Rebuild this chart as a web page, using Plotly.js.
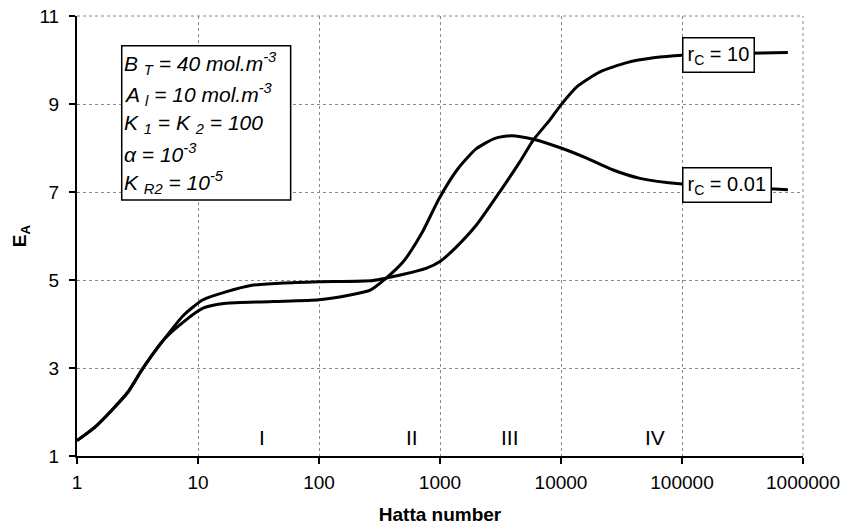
<!DOCTYPE html>
<html>
<head>
<meta charset="utf-8">
<script src="https://cdn.plot.ly/plotly-3.0.1.min.js"></script>
<style>html,body{margin:0;padding:0;background:#fff;}#chart{width:846px;height:531px;}</style>
</head>
<body>
<div id="chart"></div>
<script>
// Hatta number values and enhancement factor E_A for each curve
const hattaRc10 = [1, 1.4, 2, 2.65, 3.5, 5.2, 7.6, 11, 17, 28, 50, 100, 280, 500, 776, 1000, 1374, 2000, 3130, 4580, 5900, 8100, 10000, 13500, 21000, 35000, 58000, 100000, 750000];
const eaRc10    = [1.35, 1.65, 2.08, 2.46, 2.99, 3.64, 4.2, 4.55, 4.73, 4.88, 4.93, 4.96, 4.99, 5.13, 5.27, 5.42, 5.76, 6.25, 7.01, 7.69, 8.18, 8.64, 8.98, 9.39, 9.73, 9.94, 10.05, 10.11, 10.17];

const hattaRc001 = [1, 1.4, 2, 2.65, 3.5, 5.2, 7.6, 11, 17, 42, 100, 180, 265, 351, 498, 706, 987, 1417, 2010, 2850, 3910, 5900, 10000, 16300, 27000, 45000, 100000, 750000];
const eaRc001    = [1.35, 1.65, 2.08, 2.46, 2.99, 3.64, 4.05, 4.36, 4.47, 4.51, 4.55, 4.66, 4.77, 5.02, 5.42, 6.06, 6.86, 7.54, 7.99, 8.22, 8.28, 8.2, 8.0, 7.77, 7.5, 7.31, 7.18, 7.05];

const seriesNames = ['r<sub>C</sub> = 10', 'r<sub>C</sub> = 0.01'];
const seriesLabelX = [100000, 100000];
const seriesLabelY = [10.12, 7.17];

const xTickVals = [1, 10, 100, 1000, 10000, 100000, 1000000];
const xTickText = ['1', '10', '100', '1000', '10000', '100000', '1000000'];
const yTickVals = [1, 3, 5, 7, 9, 11];

const regionLabels = ['I', 'II', 'III', 'IV'];
const regionX = [34, 590, 3800, 60000];
const regionY = [1.43, 1.43, 1.43, 1.43];

const paramLines = [
  'B <sub>T</sub> = 40 mol.m<sup>-3</sup>',
  'A <sub>l</sub> = 10 mol.m<sup>-3</sup>',
  'K <sub>1</sub> = K <sub>2</sub> = 100',
  '\u03b1 = 10<sup>-3</sup>',
  'K <sub>R2</sub> = 10<sup>-5</sup>'
];

const FONT = 'Liberation Sans, Arial, Helvetica, sans-serif';

const lineStyle = {color: '#000', width: 3, shape: 'spline', smoothing: 0.6};
const traces = [
  {x: hattaRc10, y: eaRc10, mode: 'lines', line: lineStyle, name: 'r_C = 10', hoverinfo: 'x+y'},
  {x: hattaRc001, y: eaRc001, mode: 'lines', line: lineStyle, name: 'r_C = 0.01', hoverinfo: 'x+y'}
];

const annotations = [];
seriesNames.forEach((t, i) => {
  annotations.push({
    xref: 'x', yref: 'y', x: Math.log10(seriesLabelX[i]), y: seriesLabelY[i],
    text: t, showarrow: false, xanchor: 'left', yanchor: 'middle',
    bgcolor: '#fff', bordercolor: '#000', borderwidth: 1.5, borderpad: 4,
    font: {family: FONT, size: 20, color: '#000'}
  });
});
regionLabels.forEach((t, i) => {
  annotations.push({
    xref: 'x', yref: 'y', x: Math.log10(regionX[i]), y: regionY[i],
    text: t, showarrow: false, xanchor: 'center', yanchor: 'middle',
    font: {family: FONT, size: 21, color: '#000'}
  });
});
const paramY = [0.893, 0.822, 0.754, 0.688, 0.622];
paramLines.forEach((t, i) => {
  annotations.push({
    xref: 'paper', yref: 'paper', x: 0.062, y: paramY[i],
    text: '<i>' + t + '</i>', showarrow: false, xanchor: 'left', yanchor: 'middle',
    font: {family: FONT, size: 21, color: '#000'}
  });
});

const gridDot = {color: '#8a8a8a', width: 1, dash: 'dot'};

const layout = {
  width: 846, height: 531,
  margin: {l: 77, r: 43, t: 16, b: 75, pad: 0},
  paper_bgcolor: '#fff', plot_bgcolor: '#fff',
  showlegend: false,
  font: {family: FONT, size: 19, color: '#000'},
  xaxis: {
    type: 'log', range: [0, 6],
    tickvals: xTickVals, ticktext: xTickText,
    ticks: 'outside', ticklen: 6, tickwidth: 1.5, tickcolor: '#000',
    showline: true, linecolor: '#000', linewidth: 2,
    showgrid: true, gridcolor: '#8a8a8a', gridwidth: 1, griddash: 'dot',
    zeroline: false, ticklabelstandoff: 2,
    tickfont: {family: FONT, size: 19, color: '#000'},
    title: {text: 'Hatta number', font: {family: FONT, size: 19, color: '#000', weight: 'bold'}, standoff: 16}
  },
  yaxis: {
    range: [1, 11], tickvals: yTickVals,
    ticks: 'outside', ticklen: 6, tickwidth: 1.5, tickcolor: '#000',
    showline: true, linecolor: '#000', linewidth: 2,
    showgrid: true, gridcolor: '#8a8a8a', gridwidth: 1, griddash: 'dot',
    zeroline: false, ticklabelstandoff: 6,
    tickfont: {family: FONT, size: 19, color: '#000'},
    title: {text: 'E<sub>A</sub>', font: {family: FONT, size: 19, color: '#000', weight: 'bold'}, standoff: 8}
  },
  shapes: [
    {type: 'line', xref: 'paper', yref: 'paper', x0: 0, x1: 1, y0: 1, y1: 1, line: gridDot, layer: 'below'},
    {type: 'line', xref: 'paper', yref: 'paper', x0: 1, x1: 1, y0: 0, y1: 1, line: gridDot, layer: 'below'},
    {type: 'rect', xref: 'paper', yref: 'paper', x0: 0.0616, x1: 0.2943, y0: 0.5818, y1: 0.9325,
     line: {color: '#000', width: 1.5}, fillcolor: '#fff', layer: 'above'}
  ],
  annotations: annotations
};

Plotly.newPlot('chart', traces, layout, {displayModeBar: false, staticPlot: true});
</script>
</body>
</html>
